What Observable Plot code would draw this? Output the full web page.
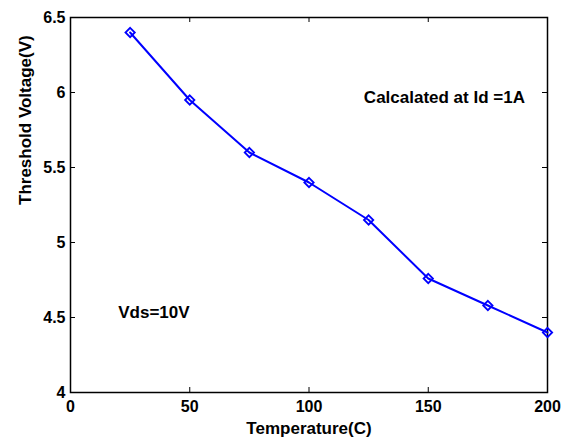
<!DOCTYPE html>
<html>
<head>
<meta charset="utf-8">
<script src="https://cdn.jsdelivr.net/npm/d3@7"></script>
<script src="https://cdn.jsdelivr.net/npm/@observablehq/plot@0.6"></script>
<style>
  html, body { margin: 0; padding: 0; background: #fff; }
  #chart svg { display: block; }
</style>
</head>
<body>
<div id="chart"></div>
<script>
const temperature = [25, 50, 75, 100, 125, 150, 175, 200];
const thresholdVoltage = [6.40, 5.95, 5.60, 5.40, 5.15, 4.76, 4.58, 4.40];
const xTicks = [0, 50, 100, 150, 200];
const yTicks = [4, 4.5, 5, 5.5, 6, 6.5];
const yTickLabels = ["4", "4.5", "5", "5.5", "6", "6.5"];
const noteText = ["Calcalated at Id =1A", "Vds=10V"];
const noteX = [123, 20];
const noteY = [5.965, 4.53];

const data = temperature.map((t, i) => ({t, v: thresholdVoltage[i]}));
const notes = noteText.map((s, i) => ({s, x: noteX[i], y: noteY[i]}));

const W = 576, H = 440;
const mL = 70, mR = 29, mT = 17, mB = 48;
const frameH = H - mT - mB;
const frameW = W - mL - mR;
const tl = 5;

const chart = Plot.plot({
  width: W,
  height: H,
  marginLeft: mL,
  marginRight: mR,
  marginTop: mT,
  marginBottom: mB,
  style: {fontFamily: "'Liberation Sans', Arial, sans-serif", fontWeight: "bold", fontSize: "16px", color: "#000", background: "#fff"},
  x: {domain: [0, 200]},
  y: {domain: [4, 6.5]},
  marks: [
    Plot.axisX(xTicks, {tickSize: 0, tickPadding: 8, fontSize: 16, label: null}),
    Plot.axisY(yTicks, {tickSize: 0, tickPadding: 5, fontSize: 16, label: null, tickFormat: (d, i) => yTickLabels[yTicks.indexOf(d)]}),
    Plot.text(["Temperature(C)"], {frameAnchor: "bottom", dy: 36, fontSize: 17, fontWeight: "bold", lineAnchor: "middle"}),
    Plot.text(["Threshold Voltage(V)"], {frameAnchor: "left", dx: -45, rotate: -90, fontSize: 17, fontWeight: "bold"}),
    Plot.tickX(xTicks, {x: d => d, insetTop: frameH - tl, stroke: "#000", strokeWidth: 1}),
    Plot.tickX(xTicks, {x: d => d, insetBottom: frameH - tl, stroke: "#000", strokeWidth: 1}),
    Plot.tickY(yTicks, {y: d => d, insetRight: frameW - tl, stroke: "#000", strokeWidth: 1}),
    Plot.tickY(yTicks, {y: d => d, insetLeft: frameW - tl, stroke: "#000", strokeWidth: 1}),
    Plot.frame({stroke: "#000", strokeWidth: 1.5}),
    Plot.line(data, {x: "t", y: "v", stroke: "#0000ff", strokeWidth: 2}),
    Plot.dot(data, {x: "t", y: "v", symbol: "diamond2", r: 4.2, stroke: "#0000ff", strokeWidth: 1.8, fill: "none"}),
    Plot.text(notes, {x: "x", y: "y", text: "s", textAnchor: "start", fontSize: 17, fontWeight: "bold", fill: "#000"})
  ]
});
document.getElementById("chart").appendChild(chart);
</script>
</body>
</html>
